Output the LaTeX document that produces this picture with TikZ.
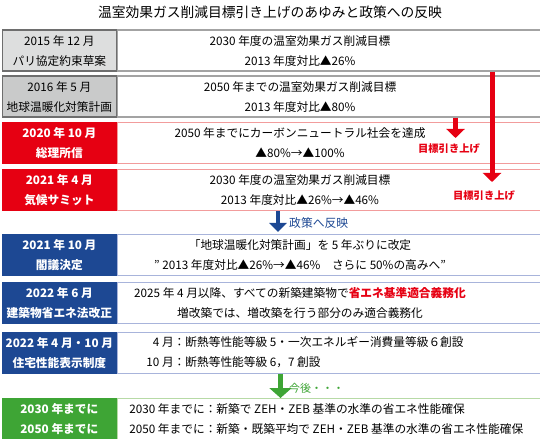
\documentclass[tikz,border=0pt]{standalone}
\usepackage{fontspec}
\setmainfont{Noto Sans CJK JP}
\usetikzlibrary{positioning,arrows.meta}

\definecolor{grayA}{HTML}{DDDEDE}
\definecolor{grayB}{HTML}{C9CACA}
\definecolor{grayD}{HTML}{6E6E6E}
\definecolor{grayline}{HTML}{A3A3A3}
\definecolor{redA}{HTML}{E60012}
\definecolor{redline}{HTML}{F29C9C}
\definecolor{blueA}{HTML}{1D4893}
\definecolor{blueline}{HTML}{A8B4DB}
\definecolor{greenA}{HTML}{3EA535}
\definecolor{greenline}{HTML}{B7DAA6}

\newcommand{\rowfont}{\fontsize{11.7bp}{20bp}\selectfont}
\newcommand{\titlefont}{\fontsize{13.75bp}{16bp}\selectfont}
\newcommand{\notefont}{\fontsize{10.3bp}{12bp}\selectfont\bfseries}

\begin{document}
\begin{tikzpicture}[x=1bp,y=1bp]
    \useasboundingbox (0,0) rectangle (540,-439);
    \begin{scope}[text centered,
    		lbox/.style={rectangle,draw,line width=1.2bp,minimum width=114.5bp,minimum height=41bp,inner sep=0pt,anchor=north west,align=center,font=\rowfont},
    		rbox/.style={rectangle,draw,line width=1.2bp,minimum width=423bp,minimum height=41bp,inner sep=0pt},
    		txt/.style={inner sep=0pt,align=center,font=\rowfont},
    		colhead/.style={text=white,font=\rowfont\bfseries},
    		arrow/.style={line width=5bp,-{Triangle[width=18bp,length=9bp]}}]

    \node (title) at (270,-12) [font=\titlefont] {温室効果ガス削減目標引き上げのあゆみと政策への反映};

    \coordinate (tx) at (300,0);

    % 2015
    \node[lbox] (l1) at (1.5,-29.5) [fill=grayA,draw=grayD] {2015 年 12 月\\パリ協定約束草案};
    \node[rbox] (r1) [right=0pt of l1,draw=grayline] {};
    \node[txt] (t1) at (r1.center -| tx) {2030 年度の温室効果ガス削減目標\\2013 年度対比▲26\%};

    % 2016
    \node[lbox] (l2) at (1.5,-75.5) [fill=grayB,draw=grayD] {2016 年 5 月\\地球温暖化対策計画};
    \node[rbox] (r2) [right=0pt of l2,draw=grayline] {};
    \node[txt] (t2) at (r2.center -| tx) {2050 年までの温室効果ガス削減目標\\2013 年度対比▲80\%};

    % 2020
    \node[lbox,colhead] (l3) at (1.5,-122) [fill=redA,draw=redA] {2020 年 10 月\\総理所信};
    \node[rbox] (r3) [right=0pt of l3,draw=redline] {};
    \node[txt] (t3) at (r3.center -| tx) {2050 年までにカーボンニュートラル社会を達成\\▲80\%→▲100\%};

    % 2021.4
    \node[lbox,colhead] (l4) at (1.5,-169) [fill=redA,draw=redA] {2021 年 4 月\\気候サミット};
    \node[rbox] (r4) [right=0pt of l4,draw=redline] {};
    \node[txt] (t4) at (r4.center -| tx) {2030 年度の温室効果ガス削減目標\\2013 年度対比▲26\%→▲46\%};

    % 2021.10
    \node[lbox,colhead] (l5) at (1.5,-234) [fill=blueA,draw=blueA] {2021 年 10 月\\閣議決定};
    \node[rbox] (r5) [right=0pt of l5,draw=blueline] {};
    \node[txt] (t5) at (r5.center -| tx) {「地球温暖化対策計画」を 5 年ぶりに改定\\” 2013 年度対比▲26\%→▲46\%　さらに 50\%の高みへ”};

    % 2022.6
    \node[lbox,colhead] (l6) at (1.5,-281.5) [fill=blueA,draw=blueA] {2022 年 6 月\\建築物省エネ法改正};
    \node[rbox] (r6) [right=0pt of l6,draw=blueline] {};
    \node[txt] (t6) at (r6.center -| tx) {2025 年 4 月以降、すべての新築建築物で{\color{redA}\bfseries 省エネ基準適合義務化}\\増改築では、増改築を行う部分のみ適合義務化};

    % 2022.4/10
    \node[lbox,colhead] (l7) at (1.5,-331.5) [fill=blueA,draw=blueA] {2022 年 4 月・10 月\\住宅性能表示制度};
    \node[rbox] (r7) [right=0pt of l7,draw=blueline] {};
    \node[txt,anchor=west] (t7) at (r7.west) [xshift=29bp] {\begin{tabular}{@{}r@{}l@{}}4 月：&断熱等性能等級 5・一次エネルギー消費量等級６創設\\10 月：&断熱等性能等級 6，7 創設\end{tabular}};

    % future
    \node[lbox,colhead] (l8) at (1.5,-398) [fill=greenA,draw=greenA] {2030 年までに\\2050 年までに};
    \node[rbox] (r8) [right=0pt of l8,draw=greenline] {};
    \node[txt,anchor=west,align=left] (t8) at (r8.west) [xshift=12bp] {2030 年までに：新築で ZEH・ZEB 基準の水準の省エネ性能確保\\2050 年までに：新築・既築平均で ZEH・ZEB 基準の水準の省エネ性能確保};

    % arrows
    \coordinate (ra) at (492,0);
    \coordinate (rb) at (455.5,0);
    \coordinate (ta) at (492,-182);
    \coordinate (tb) at (455.5,-138);
    \coordinate (bx) at (278,0);
    \coordinate (gx) at (280.5,0);

    \draw[arrow,draw=redA] (r1.south -| ra) -- (ta);
    \draw[arrow,draw=redA] (r2.south -| rb) -- (tb);
    \draw[arrow,draw=blueA,line width=4bp,-{Triangle[width=17bp,length=9bp]},shorten >=2bp] (r4.south -| bx) -- (r5.north -| bx);
    \draw[arrow,draw=greenA,-{Triangle[width=22bp,length=10bp]}] (r7.south -| gx) -- (r8.north -| gx);

    \node (up1) at (449,-149) [text=redA,font=\notefont] {目標引き上げ};
    \node (up2) at (484,-196) [text=redA,font=\notefont] {目標引き上げ};
    \node (pol) at (289,-223) [anchor=west,inner sep=0pt,text=blueA,font=\fontsize{11.8bp}{14bp}\selectfont] {政策へ反映};
    \node (next) at (289,-388.5) [anchor=west,inner sep=0pt,text=greenA,font=\fontsize{11bp}{13bp}\selectfont] {今後・・・};

    \end{scope}
\end{tikzpicture}
\end{document}
